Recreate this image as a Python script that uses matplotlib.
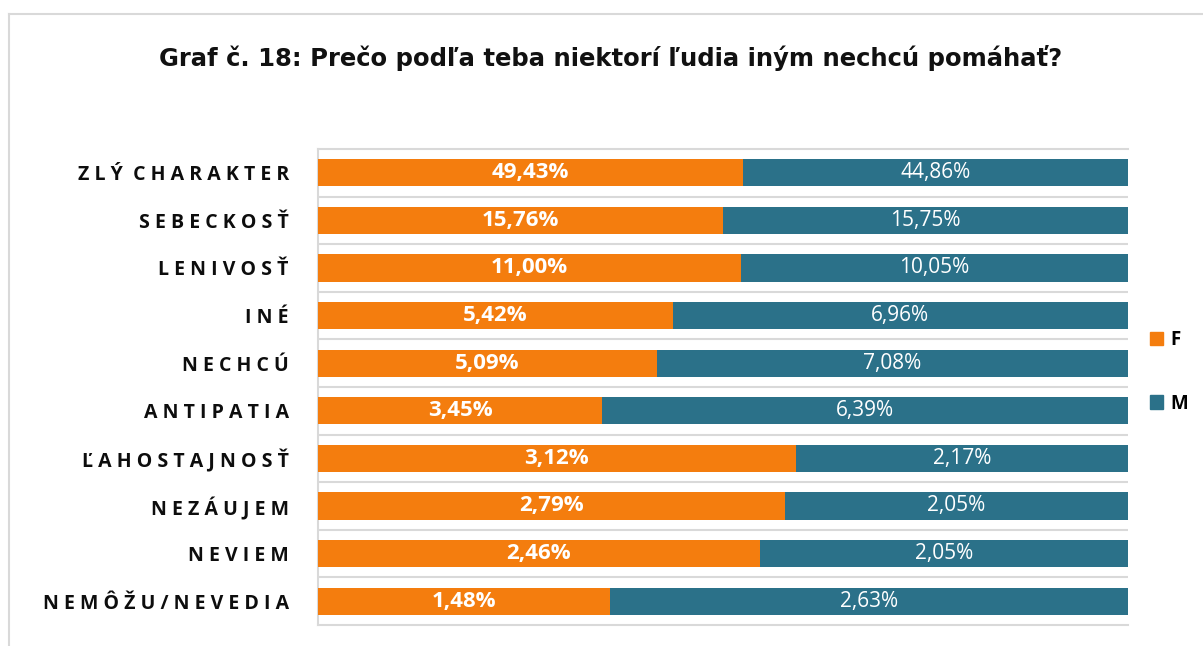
import matplotlib
matplotlib.use("Agg")
import matplotlib.pyplot as plt
from matplotlib.patches import Patch
from matplotlib.lines import Line2D
import numpy as np

title = "Graf č. 18: Prečo podľa teba niektorí ľudia iným nechcú pomáhať?"
categories = ["ZLÝ CHARAKTER", "SEBECKOSŤ", "LENIVOSŤ", "INÉ", "NECHCÚ",
              "ANTIPATIA", "ĽAHOSTAJNOSŤ", "NEZÁUJEM", "NEVIEM", "NEMÔŽU/NEVEDIA"]
f_values = [49.43, 15.76, 11.00, 5.42, 5.09, 3.45, 3.12, 2.79, 2.46, 1.48]
m_values = [44.86, 15.75, 10.05, 6.96, 7.08, 6.39, 2.17, 2.05, 2.05, 2.63]
series_names = ["F", "M"]

ORANGE = "#F47D0E"
TEAL = "#2B7189"
GRAY = "#D9D9D9"

W, H = 1203, 646
fig = plt.figure(figsize=(W / 100, H / 100), dpi=100)
ax = fig.add_axes([318 / W, 1 - 625 / H, (1128 - 318) / W, (625 - 149) / H])

f = np.array(f_values)
m = np.array(m_values)
tot = f + m
ff = f / tot
mf = m / tot
y = np.arange(len(categories))

bh = 0.57
ax.barh(y, ff, height=bh, color=ORANGE, zorder=3)
ax.barh(y, mf, left=ff, height=bh, color=TEAL, zorder=3)

def fmt(v):
    return f"{v:.2f}".replace(".", ",") + "%"

for i in range(len(categories)):
    ax.text(ff[i] / 2, y[i], fmt(f[i]), ha="center", va="center", color="white",
            fontsize=16, fontweight="bold", family="Open Sans", zorder=4)
    ax.text(ff[i] + mf[i] / 2, y[i], fmt(m[i]), ha="center", va="center", color="white",
            fontsize=15, family="Open Sans", zorder=4)

ax.set_xlim(0, 1)
ax.set_ylim(len(categories) - 0.5, -0.5)
ax.set_xticks([])

def spaced(s):
    return "  ".join(" ".join(list(w)) for w in s.split(" "))

ax.set_yticks(y)
ax.set_yticklabels([spaced(c) for c in categories], fontsize=14, fontweight="bold",
                   family="Open Sans", color="#0D0D0D")
ax.tick_params(axis="y", length=0, pad=21)
ax.set_yticks(np.arange(len(categories) - 1) + 0.5, minor=True)
ax.tick_params(axis="y", which="minor", length=0)
ax.grid(axis="y", which="minor", color=GRAY, linewidth=1.5, zorder=1)
for s in ["top", "bottom", "left"]:
    ax.spines[s].set_color(GRAY)
    ax.spines[s].set_linewidth(1.5)
ax.spines["right"].set_visible(False)

fig.text(611 / W, 1 - 66 / H, title, ha="center", va="baseline", fontsize=17.5,
         fontweight="bold", family="DejaVu Sans", color="#111111")

# outer chart frame
fig.add_artist(Line2D([8.5 / W, 1], [1 - 13.5 / H, 1 - 13.5 / H], transform=fig.transFigure,
                      color=GRAY, linewidth=1.5))
fig.add_artist(Line2D([8.5 / W, 8.5 / W], [0, 1 - 13.5 / H], transform=fig.transFigure,
                      color=GRAY, linewidth=1.5))

handles = [Patch(color=ORANGE), Patch(color=TEAL)]
leg = fig.legend(handles, series_names, loc="center left",
                 bbox_to_anchor=(1150 / W, 1 - 372 / H), frameon=False,
                 handlelength=0.7, handleheight=0.7, handletextpad=0.4,
                 labelspacing=2.3, borderpad=0, borderaxespad=0,
                 prop={"family": "Open Sans", "weight": "bold", "size": 13.5})

fig.savefig("out.png", dpi=100)
